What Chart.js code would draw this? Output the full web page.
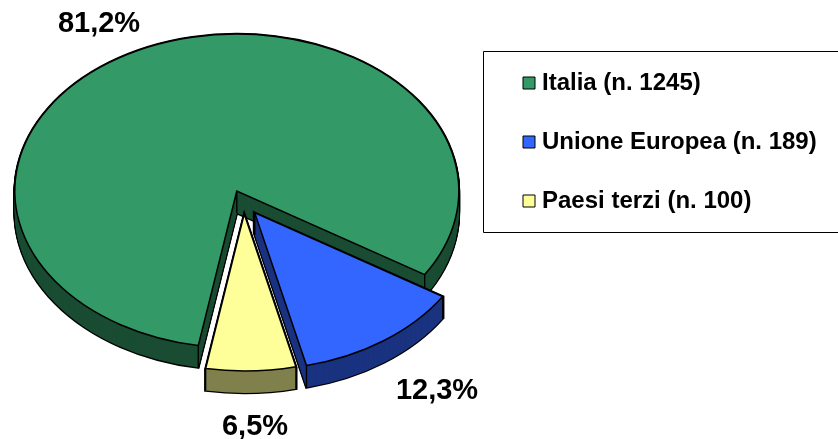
<!DOCTYPE html>
<html>
<head>
<meta charset="utf-8">
<style>html,body{margin:0;padding:0;background:#fff}#wrap{width:838px;height:439px;position:relative}</style>
<script src="https://cdn.jsdelivr.net/npm/chart.js@4"></script>
</head>
<body>
<div id="wrap"><canvas id="c" width="838" height="439"></canvas></div>
<script>
const categories = ['Italia (n. 1245)', 'Unione Europea (n. 189)', 'Paesi terzi (n. 100)'];
const counts = [1245, 189, 100];
const topColors = ['#339966', '#3366FF', '#FFFF99'];
const wallColors = ['#1A4D33', '#1A3380', '#80804D'];
const explode = [17, 19, 17];
const drawOrder = [0, 2, 1];

const FONT = '"Liberation Sans", Arial, sans-serif';
const PIE = {cx: 243.7, cy: 202, radius: 222, tilt: 0.707, depth: 22, rotation: 190};
const PCT_POS = [[99, 24], [437, 391], [255, 427]];
const BOX = {left: 483.5, top: 51.5, bottom: 232.5};

const pie3d = {
  id: 'pie3d',
  afterLayout(chart) {
    const lg = chart.legend;
    lg.left = 493; lg.right = 838; lg.top = 36; lg.bottom = 439;
    lg.width = 345; lg.height = 403;
  },
  beforeDraw(chart) {
    const ctx = chart.ctx;
    ctx.save();
    ctx.strokeStyle = '#000';
    ctx.lineWidth = 1;
    ctx.beginPath();
    ctx.moveTo(838, BOX.top);
    ctx.lineTo(BOX.left, BOX.top);
    ctx.lineTo(BOX.left, BOX.bottom);
    ctx.lineTo(838, BOX.bottom);
    ctx.stroke();
    ctx.restore();
  },
  beforeDatasetsDraw(chart) {
    const ctx = chart.ctx;
    const arcs = chart.getDatasetMeta(0).data;
    const k = PIE.tilt;
    const geom = arcs.map((a, i) => {
      const mid = (a.startAngle + a.endAngle) / 2;
      return {
        a,
        x: PIE.cx + Math.cos(mid) * explode[i],
        y: PIE.cy + Math.sin(mid) * explode[i] * k
      };
    });
    const path = (g, d) => {
      ctx.beginPath();
      ctx.moveTo(g.x, g.y + d);
      ctx.ellipse(g.x, g.y + d, g.a.outerRadius, g.a.outerRadius * k, 0, g.a.startAngle, g.a.endAngle);
      ctx.closePath();
    };
    ctx.save();
    ctx.lineJoin = 'miter';
    drawOrder.forEach(i => {
      const g = geom[i];
      ctx.strokeStyle = '#000';
      ctx.lineWidth = 2.6;
      for (let d = PIE.depth; d >= 0; d--) { path(g, d); ctx.stroke(); }
      ctx.fillStyle = wallColors[i];
      for (let d = PIE.depth; d >= 0; d--) { path(g, d); ctx.fill(); }
      // vertical edges at the corners of the slice
      ctx.lineWidth = 1.3;
      const r = g.a.outerRadius;
      [[g.x, g.y],
       [g.x + Math.cos(g.a.startAngle) * r, g.y + Math.sin(g.a.startAngle) * r * k],
       [g.x + Math.cos(g.a.endAngle) * r, g.y + Math.sin(g.a.endAngle) * r * k]].forEach(p => {
        ctx.beginPath();
        ctx.moveTo(p[0], p[1]);
        ctx.lineTo(p[0], p[1] + PIE.depth);
        ctx.stroke();
      });
      path(g, 0);
      ctx.fillStyle = topColors[i];
      ctx.fill();
      ctx.lineWidth = 1.5;
      ctx.stroke();
    });
    ctx.restore();
    return false;
  },
  afterDraw(chart) {
    const ctx = chart.ctx;
    const total = counts.reduce((s, v) => s + v, 0);
    ctx.save();
    ctx.fillStyle = '#000';
    ctx.font = 'bold 29px ' + FONT;
    ctx.textAlign = 'center';
    ctx.textBaseline = 'middle';
    counts.forEach((v, i) => {
      const t = (v / total * 100).toFixed(1).replace('.', ',') + '%';
      ctx.fillText(t, PCT_POS[i][0], PCT_POS[i][1]);
    });
    ctx.restore();
  }
};

new Chart(document.getElementById('c'), {
  type: 'pie',
  data: {
    labels: categories,
    datasets: [{
      data: counts,
      backgroundColor: topColors,
      borderColor: '#000',
      borderWidth: 1
    }]
  },
  options: {
    responsive: false,
    animation: false,
    rotation: PIE.rotation,
    radius: PIE.radius,
    plugins: {
      tooltip: {enabled: false},
      legend: {
        position: 'right',
        align: 'start',
        labels: {
          usePointStyle: true,
          pointStyle: 'rect',
          boxWidth: 2,
          boxHeight: 12,
          padding: 35,
          color: '#000',
          font: {family: FONT, size: 24, weight: 'bold'}
        }
      }
    }
  },
  plugins: [pie3d]
});
</script>
</body>
</html>
